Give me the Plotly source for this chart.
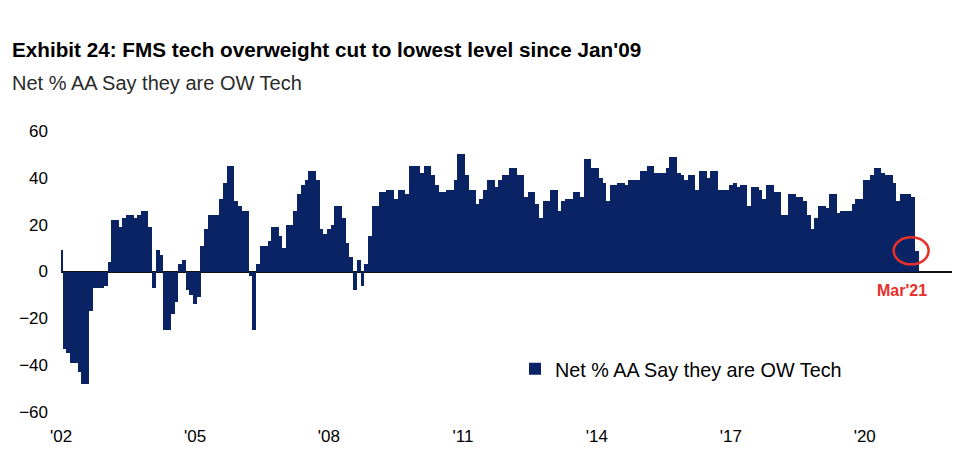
import pandas as pd
import plotly.graph_objects as go

# ---- data ----
start_month = "2002-01-01"
values = [
    9,
    -33, -35, -39, -39, -43, -48, -48, -17, -7, -7, -7, -6, 4, 22, 22, 19, 23, 24,
    24, 23, 24, 26, 26, 19, -7, 9, 7, -25, -25, -18, -13, 3, 5, -8, -10, -14, -11,
    11, 18, 24, 24, 24, 31, 38, 45, 45, 30, 28, 26, 26, -2, -25, 3, 11, 11, 13, 19, 19,
    15, 10, 20, 20, 26, 33, 37, 39, 43, 43, 39, 18, 16, 18, 20, 28, 28, 23, 12, 6,
    -8, 5, -6, 3, 15, 28, 28, 34, 34, 35, 35, 31, 35, 35, 33, 45, 45, 45, 42, 45, 45,
    41, 37, 34, 34, 35, 35, 39, 50, 50, 41, 35, 35, 29, 31, 35, 39, 39, 36, 39, 41,
    41, 44, 44, 41, 41, 32, 34, 34, 29, 23, 30, 30, 35, 35, 26, 30, 31, 31, 34, 34,
    32, 48, 48, 44, 44, 40, 38, 30, 37, 37, 38, 38, 37, 39, 39, 39, 43, 43, 45, 45,
    42, 42, 42, 44, 49, 49, 42, 41, 39, 41, 41, 35, 43, 43, 40, 43, 43, 35, 35, 35, 37,
    38, 36, 37, 37, 28, 36, 36, 35, 31, 37, 37, 34, 34, 24, 24, 33, 33, 32, 32, 30,
    24, 18, 23, 28, 28, 27, 33, 33, 25, 26, 26, 26, 29, 31, 31, 39, 39, 41, 44, 44,
    42, 41, 41, 38, 30, 33, 33, 33, 32, 8.6,
]
dates = pd.date_range(start_month, periods=len(values), freq="MS")

tick_dates = ["2002-01-01", "2005-01-01", "2008-01-01", "2011-01-01",
              "2014-01-01", "2017-01-01", "2020-01-01"]
tick_text = ["'02", "'05", "'08", "'11", "'14", "'17", "'20"]
y_ticks = [-60, -40, -20, 0, 20, 40, 60]

series_name = "Net % AA Say they are OW Tech"
title_text = "Exhibit 24: FMS tech overweight cut to lowest level since Jan'09"
subtitle_text = "Net % AA Say they are OW Tech"
last_label = "Mar'21"

NAVY = "#0a2364"
RED = "#e8302a"
FONT = "Liberation Sans, Arial, sans-serif"

fig = go.Figure()
fig.add_trace(go.Bar(
    x=dates, y=values, name=series_name,
    marker=dict(color=NAVY, line=dict(width=0)),
    width=31 * 86400000,
    showlegend=True,
))

L, R, T, B = 61, 8, 131, 56
pw = 960 - L - R
ph = 468 - T - B

fig.update_layout(
    width=960, height=468,
    margin=dict(l=L, r=R, t=T, b=B, autoexpand=False),
    paper_bgcolor="white", plot_bgcolor="white",
    bargap=0,
    showlegend=True,
    legend=dict(
        x=(515 - L) / pw, y=1 - (369 - T) / ph, xanchor="left", yanchor="middle",
        font=dict(family=FONT, size=19.8, color="black"),
        bgcolor="rgba(0,0,0,0)", itemwidth=30,
    ),
    xaxis=dict(
        type="date",
        range=["2001-12-31", "2021-12-15"],
        tickvals=tick_dates, ticktext=tick_text,
        showgrid=False, zeroline=False, showline=False, ticks="",
        tickfont=dict(family=FONT, size=17, color="black"),
        ticklabelstandoff=12, automargin=False,
    ),
    yaxis=dict(
        range=[-60, 60],
        tickvals=y_ticks,
        showgrid=False, showline=False, ticks="",
        zeroline=True, zerolinecolor="#111111", zerolinewidth=1.5,
        tickfont=dict(family=FONT, size=17, color="black"),
        ticklabelstandoff=12, automargin=False,
    ),
    font=dict(family=FONT),
)

# Title and subtitle
fig.add_annotation(
    text="<b>" + title_text + "</b>", xref="paper", yref="paper",
    x=(10 - L) / pw, y=1 + (T - 49) / ph, xanchor="left", yanchor="middle",
    showarrow=False,
    font=dict(family=FONT, size=20.7, color="black"),
)
fig.add_annotation(
    text=subtitle_text, xref="paper", yref="paper",
    x=(10 - L) / pw, y=1 + (T - 83) / ph, xanchor="left", yanchor="middle",
    showarrow=False,
    font=dict(family=FONT, size=20, color="#2a2a2a"),
)

# Highlight the latest reading
last_x = dates[-1]
last_y = values[-1]
fig.add_shape(
    type="circle", xref="x", yref="y",
    xsizemode="pixel", ysizemode="pixel",
    xanchor=last_x, yanchor=last_y,
    x0=-23, x1=12, y0=-13, y1=14,
    line=dict(color=RED, width=2.5),
)
fig.add_annotation(
    text="<b>" + last_label + "</b>", x=last_x, y=0, xref="x", yref="y",
    showarrow=False, yshift=-19, xshift=-15,
    font=dict(family=FONT, size=16, color=RED),
)

fig.write_html("out.html", config={"displayModeBar": False},
               post_script="document.body.style.margin='0px';")
